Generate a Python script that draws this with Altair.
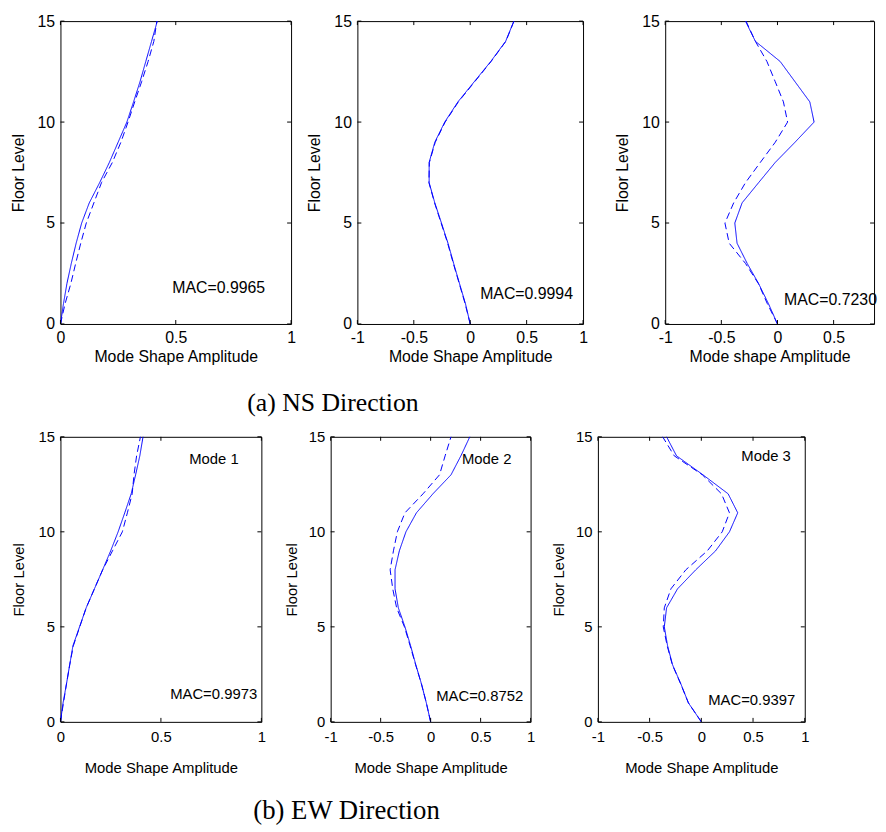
import altair as alt
import pandas as pd

floors = list(range(16))

# (a) NS direction
ns1_solid = [0, 0.013, 0.028, 0.047, 0.068, 0.092, 0.125, 0.17, 0.212, 0.25, 0.288, 0.317, 0.345, 0.37, 0.395, 0.42]
ns1_dash = [0, 0.02, 0.045, 0.066, 0.088, 0.112, 0.145, 0.178, 0.225, 0.262, 0.293, 0.322, 0.352, 0.38, 0.405, 0.418]
ns2_solid = [0, -0.042, -0.095, -0.147, -0.197, -0.255, -0.314, -0.364, -0.364, -0.314, -0.226, -0.109, 0.036, 0.182, 0.314, 0.387]
ns2_dash = [0, -0.045, -0.097, -0.15, -0.2, -0.258, -0.316, -0.366, -0.362, -0.31, -0.222, -0.105, 0.04, 0.185, 0.316, 0.388]
ns3_solid = [0, -0.08, -0.168, -0.27, -0.36, -0.38, -0.315, -0.168, -0.02, 0.156, 0.326, 0.288, 0.156, 0.024, -0.197, -0.285]
ns3_dash = [0, -0.09, -0.17, -0.285, -0.43, -0.468, -0.39, -0.285, -0.153, -0.02, 0.09, 0.053, -0.02, -0.094, -0.197, -0.28]

# (b) EW direction
ew1_solid = [0, 0.013, 0.03, 0.046, 0.062, 0.095, 0.128, 0.169, 0.21, 0.25, 0.287, 0.32, 0.352, 0.374, 0.395, 0.411]
ew1_dash = [0, 0.015, 0.03, 0.046, 0.064, 0.096, 0.128, 0.169, 0.21, 0.259, 0.308, 0.333, 0.357, 0.366, 0.379, 0.398]
ew2_solid = [0, -0.043, -0.092, -0.148, -0.2, -0.257, -0.323, -0.356, -0.356, -0.313, -0.247, -0.142, 0.023, 0.204, 0.303, 0.392]
ew2_dash = [0, -0.043, -0.092, -0.15, -0.205, -0.262, -0.34, -0.379, -0.405, -0.372, -0.333, -0.257, -0.076, 0.089, 0.145, 0.204]
ew3_solid = [0, -0.125, -0.198, -0.278, -0.326, -0.358, -0.336, -0.23, -0.054, 0.138, 0.272, 0.352, 0.259, 0.016, -0.24, -0.336]
ew3_dash = [0, -0.125, -0.2, -0.28, -0.33, -0.368, -0.358, -0.294, -0.15, 0.058, 0.202, 0.272, 0.195, 0.01, -0.262, -0.374]

mac_ns = ["MAC=0.9965", "MAC=0.9994", "MAC=0.7230"]
mac_ew = ["MAC=0.9973", "MAC=0.8752", "MAC=0.9397"]
mode_labels = ["Mode 1", "Mode 2", "Mode 3"]
y_ticks = [0, 5, 10, 15]
x_ticks_pos = [0, 0.5, 1]
x_ticks_full = [-1, -0.5, 0, 0.5, 1]

BLUE = "#0000ff"
SANS = "Liberation Sans"
SERIF = "Liberation Serif"
TICK = 4


def panel(solid, dashed, xdom, xticks, w, h, mac, mac_xy, fs, xtitle,
          x_lp, x_tp, y_lp, y_tp, mode=None, mode_xy=None):
    df = pd.DataFrame({
        "floor": floors + floors,
        "amp": solid + dashed,
        "series": ["Identified"] * 16 + ["Analytical"] * 16,
    })
    xs = alt.Scale(domain=xdom, nice=False, zero=False)
    ys = alt.Scale(domain=[0, 15], nice=False)
    xa = alt.Axis(values=xticks, labelExpr="'' + datum.value", grid=False,
                  domain=False, ticks=False, tickSize=0, labelPadding=x_lp,
                  titlePadding=x_tp, labelFont=SANS, titleFont=SANS,
                  labelFontSize=fs, titleFontSize=fs, titleFontWeight="normal",
                  labelColor="black", titleColor="black", labelFlush=False)
    ya = alt.Axis(values=y_ticks, grid=False, domain=False, ticks=False, tickSize=0,
                  labelPadding=y_lp, titlePadding=y_tp, labelFont=SANS,
                  titleFont=SANS, labelFontSize=fs, titleFontSize=fs,
                  titleFontWeight="normal", labelColor="black",
                  titleColor="black", labelFlush=False)
    lines = alt.Chart(df).mark_line(color=BLUE, strokeWidth=1).encode(
        x=alt.X("amp:Q", scale=xs, title=xtitle, axis=xa),
        y=alt.Y("floor:Q", scale=ys, title="Floor Level", axis=ya),
        strokeDash=alt.StrokeDash("series:N", legend=None,
                                  scale=alt.Scale(domain=["Identified", "Analytical"],
                                                  range=[[1, 0], [7, 4]])),
        order="floor:Q",
    )
    xt = pd.DataFrame({"t": xticks})
    yt = pd.DataFrame({"t": y_ticks})
    rx = alt.X("t:Q", scale=xs, title=xtitle, axis=xa)
    ry = alt.Y("t:Q", scale=ys, title="Floor Level", axis=ya)
    tb = alt.Chart(xt).mark_rule(color="black", strokeWidth=1).encode(
        x=rx, y=alt.value(h), y2=alt.value(h - TICK))
    tt = alt.Chart(xt).mark_rule(color="black", strokeWidth=1).encode(
        x=rx, y=alt.value(0), y2=alt.value(TICK))
    tl = alt.Chart(yt).mark_rule(color="black", strokeWidth=1).encode(
        y=ry, x=alt.value(0), x2=alt.value(TICK))
    tr = alt.Chart(yt).mark_rule(color="black", strokeWidth=1).encode(
        y=ry, x=alt.value(w - TICK), x2=alt.value(w))
    ann = [{"x": mac_xy[0], "y": mac_xy[1], "label": mac}]
    if mode:
        ann.append({"x": mode_xy[0], "y": mode_xy[1], "label": mode})
    txt = alt.Chart(pd.DataFrame(ann)).mark_text(
        align="left", baseline="middle", font=SANS, fontSize=fs, color="black"
    ).encode(x=alt.X("x:Q", scale=xs, title=xtitle, axis=xa),
             y=alt.Y("y:Q", scale=ys, title="Floor Level", axis=ya),
             text="label:N")
    return alt.layer(lines, tb, tt, tl, tr, txt).properties(width=w, height=h)


H1 = 306
p1 = panel(ns1_solid, ns1_dash, [0, 1], x_ticks_pos, 233, H1, mac_ns[0], (0.485, 1.8), 16,
           "Mode Shape Amplitude", 6, 3, 6, 11)
p2 = panel(ns2_solid, ns2_dash, [-1, 1], x_ticks_full, 228, H1, mac_ns[1], (0.088, 1.48), 16,
           "Mode Shape Amplitude", 6, 3, 6, 11)
p3 = panel(ns3_solid, ns3_dash, [-1, 0.86], [-1, -0.5, 0, 0.5], 211, H1, mac_ns[2], (0.059, 1.18), 16,
           "Mode shape Amplitude", 6, 3, 6, 11)

H2 = 288
p4 = panel(ew1_solid, ew1_dash, [0, 1], x_ticks_pos, 203, H2, mac_ew[0], (0.546, 1.44), 15,
           "Mode Shape Amplitude", 8, 16, 6, 12, mode_labels[0], (0.641, 13.83))
p5 = panel(ew2_solid, ew2_dash, [-1, 1], x_ticks_full, 202, H2, mac_ew[1], (0.056, 1.37), 15,
           "Mode Shape Amplitude", 8, 16, 6, 9, mode_labels[1], (0.313, 13.85))
p6 = panel(ew3_solid, ew3_dash, [-1, 1], x_ticks_full, 209, H2, mac_ew[2], (0.067, 1.16), 15,
           "Mode Shape Amplitude", 8, 16, 6, 9, mode_labels[2], (0.387, 13.99))

cap_a = alt.TitleParams("(a) NS Direction", orient="bottom", anchor="start", dx=240, offset=25,
                        font=SERIF, fontSize=26, fontWeight="normal", color="black")
cap_b = alt.TitleParams("(b) EW Direction", orient="bottom", anchor="start", dx=245, offset=23,
                        font=SERIF, fontSize=27, fontWeight="normal", color="black")

row1 = alt.hconcat(alt.hconcat(p1, p2, spacing=10), p3, spacing=26).properties(title=cap_a)
row2 = alt.hconcat(alt.hconcat(p4, p5, spacing=17), p6, spacing=15).properties(title=cap_b)

chart = alt.vconcat(row1, row2, spacing=13).properties(
    padding={"left": 1, "top": 0, "right": 0, "bottom": 0}
).configure(background="white").configure_view(stroke="black", strokeWidth=1)

chart.save("out.html", embed_options={"renderer": "svg", "actions": False})
